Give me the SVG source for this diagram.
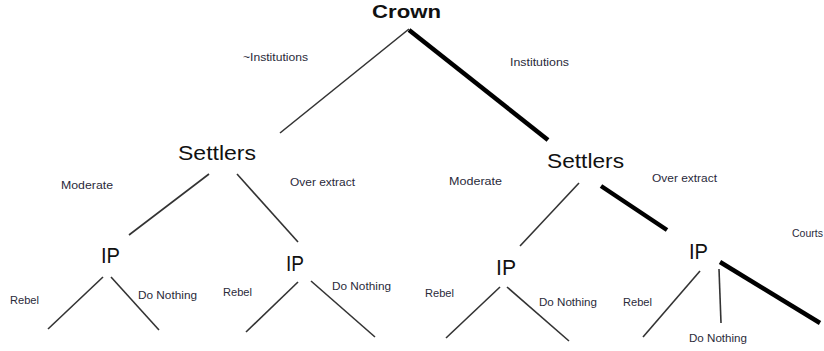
<svg xmlns="http://www.w3.org/2000/svg" width="824" height="351" viewBox="0 0 824 351">
<style>
.n{font-family:"Liberation Sans",Arial,sans-serif;fill:#111}
.big{font-size:21px}
.ip{font-size:22px}
.crown{font-size:19px;font-weight:bold}
.lbl{font-family:"Liberation Sans",Arial,sans-serif;font-size:10.5px;fill:#2a2a3a}
.thin{stroke:#333;stroke-width:1.6;fill:none}
.thick{stroke:#000;stroke-width:4.5;fill:none}
</style>
<rect width="824" height="351" fill="#fff"/>
<g id="connectors">
<line class="thin" x1="409" y1="29" x2="280" y2="133"/>
<line class="thick" x1="409" y1="30" x2="548" y2="140"/>
<line class="thin" x1="209" y1="174" x2="129" y2="235"/>
<line class="thin" x1="237" y1="174" x2="298" y2="242"/>
<line class="thin" x1="579" y1="183" x2="520" y2="246"/>
<line class="thick" x1="601" y1="186" x2="667" y2="230"/>
<line class="thin" x1="103" y1="277" x2="48" y2="329"/>
<line class="thin" x1="111" y1="277" x2="159" y2="330"/>
<line class="thin" x1="298" y1="282" x2="246" y2="332"/>
<line class="thin" x1="311" y1="281" x2="375" y2="337"/>
<line class="thin" x1="500" y1="287" x2="446" y2="338"/>
<line class="thin" x1="507" y1="287" x2="569" y2="341"/>
<line class="thin" x1="700" y1="271" x2="643" y2="337"/>
<line class="thin" x1="719" y1="269" x2="721" y2="323"/>
<line class="thick" x1="720" y1="262" x2="820" y2="323"/>
</g>
<g id="labels">
<text class="lbl" x="243" y="61" textLength="65" lengthAdjust="spacingAndGlyphs">~Institutions</text>
<text class="lbl" x="510" y="66" textLength="59" lengthAdjust="spacingAndGlyphs">Institutions</text>
<text class="lbl" x="61" y="189" textLength="52" lengthAdjust="spacingAndGlyphs">Moderate</text>
<text class="lbl" x="290" y="186" textLength="65" lengthAdjust="spacingAndGlyphs">Over extract</text>
<text class="lbl" x="449" y="185" textLength="53" lengthAdjust="spacingAndGlyphs">Moderate</text>
<text class="lbl" x="652" y="182" textLength="65" lengthAdjust="spacingAndGlyphs">Over extract</text>
<text class="lbl" x="792" y="237">Courts</text>
<text class="lbl" x="10" y="304" textLength="29" lengthAdjust="spacingAndGlyphs">Rebel</text>
<text class="lbl" x="138" y="299" textLength="59" lengthAdjust="spacingAndGlyphs">Do Nothing</text>
<text class="lbl" x="223" y="296" textLength="29" lengthAdjust="spacingAndGlyphs">Rebel</text>
<text class="lbl" x="332" y="290" textLength="59" lengthAdjust="spacingAndGlyphs">Do Nothing</text>
<text class="lbl" x="425" y="297" textLength="29" lengthAdjust="spacingAndGlyphs">Rebel</text>
<text class="lbl" x="539" y="306" textLength="58" lengthAdjust="spacingAndGlyphs">Do Nothing</text>
<text class="lbl" x="623" y="306" textLength="29" lengthAdjust="spacingAndGlyphs">Rebel</text>
<text class="lbl" x="689" y="342" textLength="58" lengthAdjust="spacingAndGlyphs">Do Nothing</text>
</g>
<g id="crown"><text class="n crown" x="372" y="18" textLength="69" lengthAdjust="spacingAndGlyphs">Crown</text></g>
<g id="settlers-left"><text class="n big" x="178" y="160" textLength="78" lengthAdjust="spacingAndGlyphs">Settlers</text></g>
<g id="settlers-right"><text class="n big" x="547" y="168" textLength="77" lengthAdjust="spacingAndGlyphs">Settlers</text></g>
<g id="ip-1"><text class="n ip" x="101" y="263" textLength="19" lengthAdjust="spacingAndGlyphs">IP</text></g>
<g id="ip-2"><text class="n ip" x="286" y="271" textLength="18" lengthAdjust="spacingAndGlyphs">IP</text></g>
<g id="ip-3"><text class="n ip" x="496" y="275" textLength="20" lengthAdjust="spacingAndGlyphs">IP</text></g>
<g id="ip-4"><text class="n ip" x="689" y="259" textLength="19" lengthAdjust="spacingAndGlyphs">IP</text></g>
</svg>
